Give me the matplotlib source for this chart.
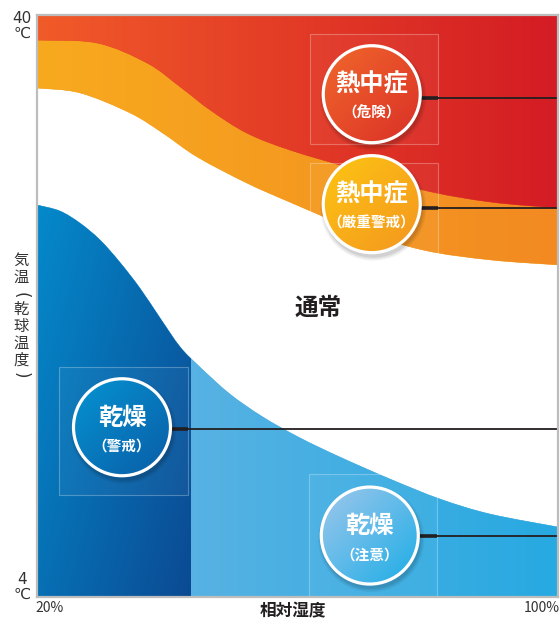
import numpy as np
import matplotlib
matplotlib.use('Agg')
import matplotlib.pyplot as plt
from matplotlib.path import Path
from matplotlib.patches import PathPatch, Circle, Rectangle
from matplotlib.colors import LinearSegmentedColormap
from matplotlib.transforms import ScaledTranslation

plt.rcParams['font.family'] = ['Noto Sans CJK JP', 'DejaVu Sans']

# boundary curves: relative humidity (%) -> air temperature (deg C)
hum_danger = [20, 29.2, 36.9, 42.0, 46.6, 52.2, 58.8, 69.1, 79.3, 89.6, 100]
temp_danger = [38.45, 38.27, 37.03, 35.55, 34.12, 32.70, 31.65, 30.41, 29.17, 28.43, 28.06]

hum_warn = [20, 26.6, 34.3, 39.3, 44.6, 52.2, 58.8, 69.1, 79.3, 89.6, 100]
temp_warn = [35.48, 35.18, 33.94, 32.70, 31.22, 29.61, 28.43, 26.70, 25.46, 24.85, 24.54]

hum_dry = [20, 23.5, 26.6, 29.7, 32.7, 35.8, 38.9, 42.0, 45.0, 49.6, 54.7, 60.4, 66.5, 74.2, 81.9, 89.6, 100]
temp_dry = [28.25, 27.88, 27.13, 26.08, 24.72, 23.11, 21.26, 19.46, 18.23, 16.56, 15.13, 13.84, 12.66, 11.30, 10.06, 9.13, 8.33]

dry_split = 43.5  # dark blue (警戒) left of this humidity

# labels
label_main = ['熱中症', '熱中症', '乾燥', '乾燥']
label_sub = ['（危険）', '（厳重警戒）', '（警戒）', '（注意）']
label_hum = [71.4, 71.4, 33.05, 71.1]
label_temp = [35.1, 28.3, 14.5, 7.8]
leader_temp = [34.86, 28.06, 14.39, 7.77]
circle_colors = [('#f26a2c', '#d92d27'), ('#fec712', '#f39420'),
                 ('#0596d3', '#0a5aa5'), ('#a4c8ec', '#16ace6')]

# faint frames behind the labels (x0, x1, y0, y1)
boxes = [(61.9, 81.6, 32.02, 38.82), (61.9, 81.6, 24.97, 30.85),
         (23.4, 43.2, 10.31, 18.23), (61.8, 81.4, 4.0, 11.6)]
box_right = [81.6, 81.6, 43.2, 81.4]

xmin, xmax, ymin, ymax = 20, 100, 4, 40


def curve_verts(xs, ys):
    p = np.column_stack([xs, ys]).astype(float)
    verts = [p[0]]
    for i in range(len(p) - 1):
        p0 = p[i - 1] if i > 0 else p[i]
        p3 = p[i + 2] if i + 2 < len(p) else p[i + 1]
        verts += [p[i] + (p[i + 1] - p0) / 6, p[i + 1] - (p3 - p[i]) / 6, p[i + 1]]
    return verts


def area_path(xs, ys, base):
    cv = curve_verts(xs, ys)
    verts = [(xs[0], base)] + cv + [(xs[-1], base), (xs[0], base)]
    codes = [Path.MOVETO, Path.LINETO] + [Path.CURVE4] * (len(cv) - 1) + [Path.LINETO, Path.CLOSEPOLY]
    return Path(verts, codes)


def gradient(ax, clip, extent, c0, c1, diagonal=False, zorder=1):
    n = 200
    u, v = np.meshgrid(np.linspace(0, 1, n), np.linspace(0, 1, n))
    arr = (u + (1 - v)) / 2 if diagonal else u
    cmap = LinearSegmentedColormap.from_list('g', [c0, c1])
    im = ax.imshow(arr, extent=extent, origin='lower', cmap=cmap, vmin=0, vmax=1,
                   aspect='auto', interpolation='bilinear', zorder=zorder)
    im.set_clip_path(clip)
    return im


fig = plt.figure(figsize=(5.6, 6.2), dpi=100)
ax = fig.add_axes([37 / 560, 23 / 620, 521 / 560, 582 / 620])
ax.set_xlim(xmin, xmax)
ax.set_ylim(ymin, ymax)

# orange band (everything above the warning curve), then red on top
p_warn = PathPatch(area_path(hum_warn, temp_warn, ymax), transform=ax.transData,
                   fc='#f6a01f', ec='#f6a01f', lw=0.3, zorder=1)
ax.add_patch(p_warn)
gradient(ax, p_warn, (xmin, xmax, ymin, ymax), '#f8aa1e', '#f28a22', zorder=1.1)

p_danger = PathPatch(area_path(hum_danger, temp_danger, ymax), transform=ax.transData,
                     fc='#e2402a', ec='#e2402a', lw=0.3, zorder=2)
ax.add_patch(p_danger)
gradient(ax, p_danger, (xmin, xmax, ymin, ymax), '#f15a29', '#d41c24', zorder=2.1)

# light blue under dry curve, dark blue on the left part
p_dry = PathPatch(area_path(hum_dry, temp_dry, ymin), transform=ax.transData,
                  fc='#4eb0e2', ec='#4eb0e2', lw=0.3, zorder=3)
ax.add_patch(p_dry)
gradient(ax, p_dry, (xmin, xmax, ymin, ymax), '#6cb6e4', '#27a9e1', zorder=3.1)
gradient(ax, p_dry, (xmin, dry_split, ymin, ymax), '#0396d6', '#0b4a93', diagonal=True, zorder=3.2)

ax.text(63.1, 21.9, '通常', fontsize=17, fontweight='bold', color='#231f20',
        ha='center', va='center', zorder=5)

for (x0, x1, y0, y1) in boxes:
    ax.add_patch(Rectangle((x0, y0), x1 - x0, y1 - y0, fc=(1, 1, 1, 0.04),
                           ec=(1, 1, 1, 0.28), lw=0.8, zorder=5))

for i in range(len(label_main)):
    cx, cy, ly = label_hum[i], label_temp[i], leader_temp[i]
    ax.plot([cx, box_right[i]], [ly, ly], color='#231f20', lw=2.6, zorder=6, solid_capstyle='butt')
    ax.plot([box_right[i], xmax], [ly, ly], color='#231f20', lw=1.3, zorder=6, solid_capstyle='butt')

    tr = fig.dpi_scale_trans + ScaledTranslation(cx, cy, ax.transData)
    for k, a in enumerate([0.05, 0.06, 0.08]):
        ax.add_patch(Circle((0.015, -0.035), 0.53 - 0.015 * k, transform=tr, fc='black',
                            ec='none', alpha=a, zorder=7))
    clip = Circle((0, 0), 0.49, transform=tr, fc=circle_colors[i][1], ec='none', zorder=8)
    ax.add_patch(clip)
    corners = ax.transData.inverted().transform(tr.transform([(-0.52, -0.52), (0.52, 0.52)]))
    ext = (corners[0, 0], corners[1, 0], corners[0, 1], corners[1, 1])
    gradient(ax, clip, ext, circle_colors[i][0], circle_colors[i][1], diagonal=True, zorder=8.1)
    ax.add_patch(Circle((0, 0), 0.485, transform=tr, fc='none', ec='white', lw=2.3, zorder=9))

    ax.annotate(label_main[i], (cx, cy), xytext=(0, 7), textcoords='offset points',
                ha='center', va='center', fontsize=17.5, fontweight='bold', color='white', zorder=10)
    ax.annotate(label_sub[i], (cx, cy), xytext=(0, -13.5), textcoords='offset points',
                ha='center', va='center', fontsize=10.5, fontweight='bold', color='white', zorder=10)

ax.set_xticks([])
ax.set_yticks([])
for s in ax.spines.values():
    s.set_color('#bdbdbd')
    s.set_linewidth(1.6)
    s.set_zorder(11)

tc = '#333333'
dv = ['DejaVu Sans']
fig.text(22 / 560, 1 - 26 / 620, '40\n℃', ha='center', va='center', fontsize=11,
         linespacing=0.95, color=tc, family=dv)
fig.text(22 / 560, 1 - 587 / 620, '4\n℃', ha='center', va='center', fontsize=11,
         linespacing=0.95, color=tc, family=dv)
fig.text(35 / 560, 1 - 608 / 620, '20%', ha='left', va='center', fontsize=10, color=tc)
fig.text(560 / 560, 1 - 608 / 620, '100%', ha='right', va='center', fontsize=10, color=tc)
fig.text(293 / 560, 1 - 611 / 620, '相対湿度', ha='center', va='center', fontsize=12,
         fontweight='bold', color='#231f20')

# vertical y label: 気温（乾球温度）
fig.text(21 / 560, 1 - 269 / 620, '気\n温', ha='center', va='center',
         fontsize=11, linespacing=1.0, color=tc)
fig.text(21 / 560, 1 - 295 / 620, '(', ha='center', va='center', rotation=-90,
         fontsize=12, color=tc, family=dv)
fig.text(21 / 560, 1 - 334.5 / 620, '乾\n球\n温\n度', ha='center', va='center',
         fontsize=11, linespacing=1.0, color=tc)
fig.text(21 / 560, 1 - 375 / 620, ')', ha='center', va='center', rotation=-90,
         fontsize=12, color=tc, family=dv)

fig.savefig('out.png', dpi=100)
